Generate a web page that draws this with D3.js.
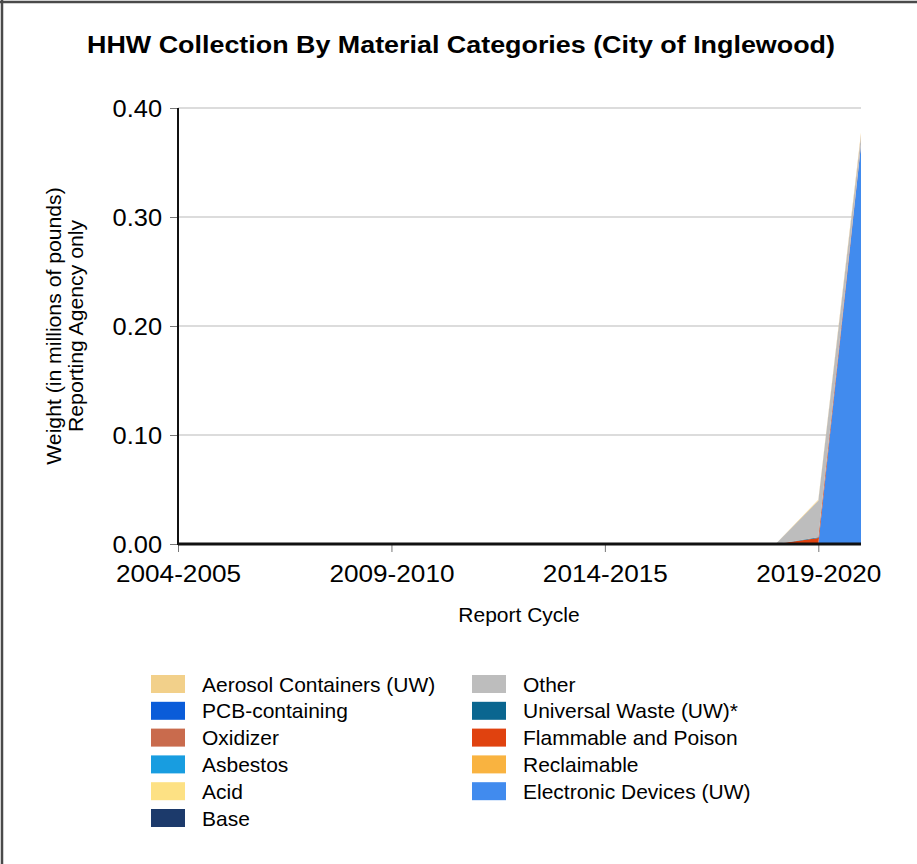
<!DOCTYPE html>
<html>
<head>
<meta charset="utf-8">
<script src="https://cdn.jsdelivr.net/npm/d3@7"></script>
<style>
  body { margin: 0; background: #fff; }
  svg { font-family: "Liberation Sans", Arial, sans-serif; }
</style>
</head>
<body>
<div id="chart"></div>
<script>
// report cycles on the x axis
var cycles = ["2004-2005", "2005-2006", "2006-2007", "2007-2008", "2008-2009",
  "2009-2010", "2010-2011", "2011-2012", "2012-2013", "2013-2014", "2014-2015",
  "2015-2016", "2016-2017", "2017-2018", "2018-2019", "2019-2020", "2020-2021"];
var tickCycles = ["2004-2005", "2009-2010", "2014-2015", "2019-2020"];
var yTicks = [0, 0.1, 0.2, 0.3, 0.4];

// legend order (two columns)
var categories = ["Aerosol Containers (UW)", "PCB-containing", "Oxidizer", "Asbestos", "Acid", "Base",
  "Other", "Universal Waste (UW)*", "Flammable and Poison", "Reclaimable", "Electronic Devices (UW)"];
var colors = ["#f2d08a", "#0a5cd9", "#c96b4d", "#189de0", "#fde184", "#1c3a6b",
  "#bdbdbd", "#0a6690", "#e0420f", "#f9b340", "#418bee"];

// weights in millions of pounds
var aerosol     = [0,0,0,0,0,0,0,0,0,0,0,0,0,0,0,0.001,0.002];
var pcb         = [0,0,0,0,0,0,0,0,0,0,0,0,0,0,0,0,0];
var oxidizer    = [0,0,0,0,0,0,0,0,0,0,0,0,0,0,0,0,0.0005];
var asbestos    = [0,0,0,0,0,0,0,0,0,0,0,0,0,0,0,0,0];
var acid        = [0,0,0,0,0,0,0,0,0,0,0,0,0,0,0,0,0];
var base        = [0,0,0,0,0,0,0,0,0,0,0,0,0,0,0,0,0];
var other       = [0,0,0,0,0,0,0,0,0,0,0,0,0,0,0,0.0335,0.008];
var universal   = [0,0,0,0,0,0,0,0,0,0,0,0,0,0,0,0.0006,0];
var flammable   = [0,0,0,0,0,0,0,0,0,0,0,0,0,0,0,0.0055,0.0008];
var reclaimable = [0,0,0,0,0,0,0,0,0,0,0,0,0,0,0,0,0];
var electronic  = [0,0,0,0,0,0,0,0,0,0,0,0,0,0,0,0,0.366];

var seriesValues = [aerosol, pcb, oxidizer, asbestos, acid, base,
  other, universal, flammable, reclaimable, electronic];

var svgWidth = 917, svgHeight = 864;
var x0 = 178, x1 = 861, yTop = 108, yBottom = 544;

var svg = d3.select("#chart").append("svg")
  .attr("width", svgWidth)
  .attr("height", svgHeight);

// frame
svg.append("line").attr("x1", 0).attr("x2", svgWidth).attr("y1", 2).attr("y2", 2)
  .attr("stroke", "#4a4a4a").attr("stroke-width", 2.5);
svg.append("line").attr("x1", 2).attr("x2", 2).attr("y1", 0).attr("y2", svgHeight)
  .attr("stroke", "#4a4a4a").attr("stroke-width", 2.5);

// title
svg.append("text")
  .attr("transform", "translate(461,53) scale(1.12,1)")
  .attr("text-anchor", "middle")
  .attr("font-size", "24px").attr("font-weight", "bold")
  .text("HHW Collection By Material Categories (City of Inglewood)");

// scales
var xScale = d3.scalePoint().domain(cycles).range([x0, x1]);
var yScale = d3.scaleLinear().domain([0, 0.4]).range([yBottom, yTop]);

// table for stacking
var table = cycles.map(function(c, i) {
  var row = {cycle: c};
  categories.forEach(function(k, j) { row[k] = seriesValues[j][i]; });
  return row;
});

// gridlines
svg.append("g").selectAll("line")
  .data(yTicks.filter(d => d > 0))
  .enter().append("line")
  .attr("x1", x0).attr("x2", x1)
  .attr("y1", d => yScale(d)).attr("y2", d => yScale(d))
  .attr("stroke", "#dcdcdc").attr("stroke-width", 2);

// stacked areas, bottom of the stack = last legend entry
var stackKeys = categories.slice().reverse();
var stacked = d3.stack().keys(stackKeys)(table);
var area = d3.area()
  .x(d => xScale(d.data.cycle))
  .y0(d => yScale(d[0]))
  .y1(d => yScale(d[1]));

svg.append("g").selectAll("path")
  .data(stacked)
  .enter().append("path")
  .attr("d", area)
  .attr("fill", d => colors[categories.indexOf(d.key)]);

// y axis
var leftAxis = d3.axisLeft(yScale).tickValues(yTicks).tickFormat(d3.format(".2f")).tickSize(8);
var yAxisG = svg.append("g")
  .attr("transform", `translate(${x0},0)`)
  .call(leftAxis);
yAxisG.select(".domain").remove();
yAxisG.selectAll(".tick line").attr("stroke", "#777");
yAxisG.selectAll(".tick text")
  .attr("font-size", "24px").attr("font-family", "Liberation Sans, Arial, sans-serif")
  .attr("fill", "#000").attr("x", -15).attr("dy", "0.36em")
  .attr("transform", "scale(1.06,1)");

// x axis
var bottomAxis = d3.axisBottom(xScale).tickValues(tickCycles).tickSize(8);
var xAxisG = svg.append("g")
  .attr("transform", `translate(0,${yBottom})`)
  .call(bottomAxis);
xAxisG.select(".domain").remove();
xAxisG.selectAll(".tick line").attr("stroke", "#777");
xAxisG.selectAll(".tick text")
  .attr("font-size", "24px").attr("font-family", "Liberation Sans, Arial, sans-serif")
  .attr("fill", "#000").attr("y", 21)
  .attr("transform", "scale(1.09,1)");

// axis lines
svg.append("line").attr("x1", x0).attr("x2", x0).attr("y1", yTop).attr("y2", yBottom + 1)
  .attr("stroke", "#111").attr("stroke-width", 2);
svg.append("line").attr("x1", x0).attr("x2", x1).attr("y1", yBottom).attr("y2", yBottom)
  .attr("stroke", "#111").attr("stroke-width", 3);

// axis titles
svg.append("text")
  .attr("transform", "translate(519,622) scale(1.05,1)")
  .attr("text-anchor", "middle")
  .attr("font-size", "20px")
  .text("Report Cycle");
var yTitle = svg.append("text")
  .attr("transform", "translate(61,326) rotate(-90) scale(1.06,1)")
  .attr("text-anchor", "middle")
  .attr("font-size", "20px");
yTitle.append("tspan").attr("x", 0).attr("dy", 0).text("Weight (in millions of pounds)");
yTitle.append("tspan").attr("x", 0).attr("dy", 22).text("Reporting Agency only");

// legend
var legend = svg.append("g").selectAll("g")
  .data(categories)
  .enter().append("g")
  .attr("transform", function(d, i) {
    var col = i < 6 ? 0 : 1;
    var row = i < 6 ? i : i - 6;
    return `translate(${col === 0 ? 151 : 472},${675 + row * 26.8})`;
  });
legend.append("rect")
  .attr("width", 34).attr("height", 18)
  .attr("fill", (d, i) => colors[i]);
legend.append("text")
  .attr("transform", "translate(51,16.5) scale(1.05,1)")
  .attr("font-size", "20px")
  .text(d => d);
</script>
</body>
</html>
